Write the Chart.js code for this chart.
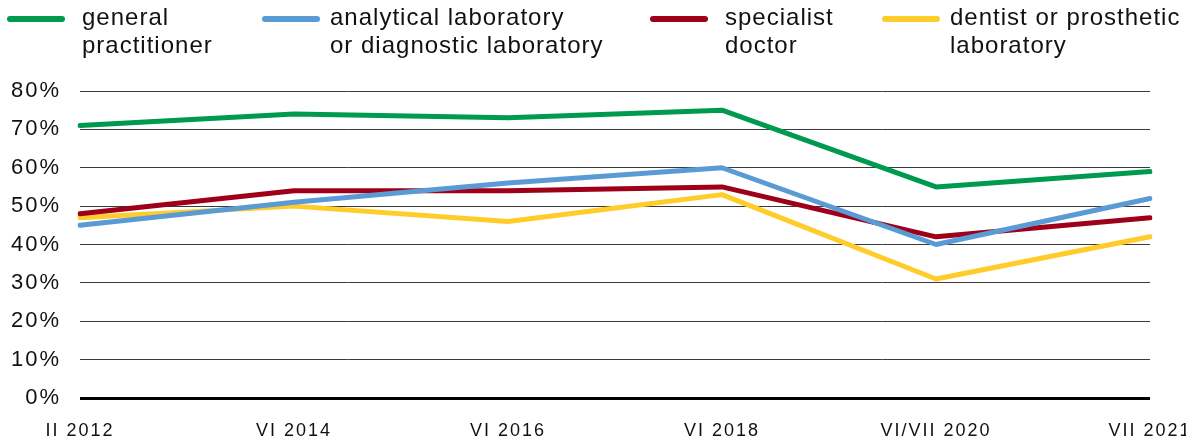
<!DOCTYPE html>
<html>
<head>
<meta charset="utf-8">
<script src="https://cdn.jsdelivr.net/npm/chart.js@4/dist/chart.umd.min.js"></script>
<style>
  html, body { margin: 0; padding: 0; background: #fff; }
  #wrap { position: relative; width: 1186px; height: 442px; }
  #legend { position: absolute; left: 0; top: 0; width: 1186px; height: 70px;
    font-family: "Liberation Sans", Arial, sans-serif; font-size: 24px; line-height: 28px;
    letter-spacing: 1px; color: #111; }
  .item { position: absolute; top: 3px; }
  .swatch { position: absolute; top: 13px; width: 58px; height: 6px; border-radius: 3px; }
  .label { position: absolute; top: 0; white-space: nowrap; }
</style>
</head>
<body>
<div id="wrap">
  <div id="legend"></div>
  <canvas id="chart" width="1186" height="442"></canvas>
</div>
<script>
const periods = ['II 2012', 'VI 2014', 'VI 2016', 'VI 2018', 'VI/VII 2020', 'VII 2021'];
const generalPractitioner = [71, 74, 73, 75, 55, 59];
const analyticalLab = [45, 51, 56, 60, 40, 52];
const specialistDoctor = [48, 54, 54, 55, 42, 47];
const dentistLab = [47, 50, 46, 53, 31, 42];
const yTicks = [0, 10, 20, 30, 40, 50, 60, 70, 80];

const series = [
  { label: ['general', 'practitioner'], data: generalPractitioner, color: '#009a4e' },
  { label: ['analytical laboratory', 'or diagnostic laboratory'], data: analyticalLab, color: '#5b9bd5' },
  { label: ['specialist', 'doctor'], data: specialistDoctor, color: '#9e0019' },
  { label: ['dentist or prosthetic', 'laboratory'], data: dentistLab, color: '#ffcc29' }
];

// legend placement (swatch x, text x)
const legendPos = [[7, 82], [262, 330], [650, 725], [882, 950]];
const legend = document.getElementById('legend');
series.forEach((s, i) => {
  const item = document.createElement('div');
  item.className = 'item';
  item.innerHTML = `<div class="swatch" style="left:${legendPos[i][0]}px;background:${s.color}"></div>` +
    `<div class="label" style="left:${legendPos[i][1]}px">${s.label.join('<br>')}</div>`;
  legend.appendChild(item);
});

// the source text is set a bit wide, so space the canvas letters out
const spacing = {
  id: 'spacing',
  beforeUpdate: chart => { chart.ctx.letterSpacing = '2px'; },
  beforeDraw: chart => { chart.ctx.letterSpacing = '2px'; }
};

new Chart(document.getElementById('chart'), {
  type: 'line',
  data: {
    labels: periods,
    datasets: series.map(s => ({
      label: s.label.join(' '),
      data: s.data,
      borderColor: s.color,
      backgroundColor: s.color,
      borderWidth: 5,
      pointRadius: 0,
      tension: 0,
      borderCapStyle: 'round',
      borderJoinStyle: 'round'
    }))
  },
  plugins: [spacing],
  options: {
    responsive: false,
    animation: false,
    layout: { padding: { top: 91, right: 36, left: 0, bottom: 0 } },
    plugins: { legend: { display: false }, tooltip: { enabled: false } },
    scales: {
      x: {
        afterFit: scale => { scale.height = 44; scale.paddingLeft = 0; scale.paddingRight = 0; },
        grid: { display: false, drawTicks: false },
        border: { display: false },
        ticks: { color: '#111', padding: 22, maxRotation: 0, autoSkip: false,
          font: { family: '"Liberation Sans", Arial, sans-serif', size: 18 } }
      },
      y: {
        min: 0,
        max: 80,
        afterFit: scale => { scale.width = 80; },
        afterBuildTicks: scale => { scale.ticks = yTicks.map(v => ({ value: v })); },
        grid: {
          drawTicks: false,
          color: ctx => ctx.tick && ctx.tick.value === 0 ? '#000' : '#3a3a3a',
          lineWidth: ctx => ctx.tick && ctx.tick.value === 0 ? 3 : 1
        },
        border: { display: false },
        ticks: { color: '#111', padding: 19, callback: v => v + '%',
          font: { family: '"Liberation Sans", Arial, sans-serif', size: 22 } }
      }
    }
  }
});
</script>
</body>
</html>
